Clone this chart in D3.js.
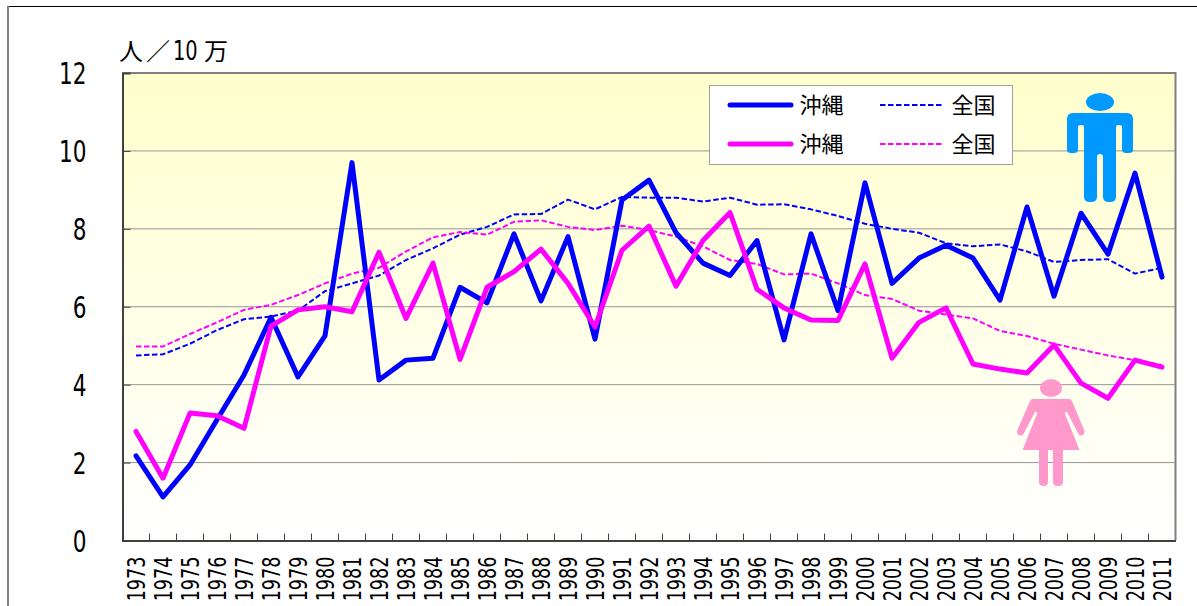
<!DOCTYPE html>
<html>
<head>
<meta charset="utf-8" />
<title>沖縄 全国</title>
<script src="https://cdnjs.cloudflare.com/ajax/libs/d3/7.8.5/d3.min.js"></script>
<style>
  html, body { margin: 0; padding: 0; background: #fff; overflow: hidden; }
  text { font-family: "DejaVu Sans Condensed", "DejaVu Sans", sans-serif; fill: #000; }
  .jp { font-family: "Noto Sans CJK JP", sans-serif; }
</style>
</head>
<body>
<svg id="chart" width="1197" height="606"></svg>
<script>
let years = d3.range(1973, 2012).map(String)
let yTicks = [0, 2, 4, 6, 8, 10, 12]
let okinawaMale = [2.17, 1.12, 1.94, 3.1, 4.25, 5.73, 4.2, 5.25, 9.7, 4.12, 4.63, 4.68, 6.5, 6.1, 7.87, 6.15, 7.8, 5.17, 8.74, 9.25, 7.9, 7.12, 6.8, 7.7, 5.15, 7.87, 5.9, 9.18, 6.6, 7.25, 7.58, 7.25, 6.17, 8.56, 6.27, 8.4, 7.35, 9.43, 6.76]
let okinawaFemale = [2.8, 1.6, 3.27, 3.2, 2.88, 5.5, 5.92, 6.0, 5.87, 7.4, 5.7, 7.12, 4.65, 6.5, 6.9, 7.48, 6.6, 5.48, 7.45, 8.07, 6.53, 7.7, 8.42, 6.45, 5.97, 5.66, 5.65, 7.1, 4.68, 5.6, 5.97, 4.53, 4.4, 4.3, 5.02, 4.04, 3.65, 4.63, 4.45]
let nationalMale = [4.75, 4.78, 5.05, 5.4, 5.68, 5.75, 5.9, 6.4, 6.6, 6.8, 7.2, 7.5, 7.85, 8.05, 8.37, 8.38, 8.75, 8.5, 8.82, 8.8, 8.8, 8.7, 8.8, 8.62, 8.63, 8.5, 8.33, 8.13, 8.0, 7.9, 7.63, 7.55, 7.6, 7.42, 7.15, 7.2, 7.22, 6.85, 7.0]
let nationalFemale = [4.98, 4.98, 5.3, 5.6, 5.92, 6.05, 6.3, 6.6, 6.85, 7.0, 7.42, 7.78, 7.92, 7.85, 8.18, 8.22, 8.05, 7.97, 8.08, 7.97, 7.8, 7.55, 7.2, 7.1, 6.83, 6.85, 6.6, 6.3, 6.2, 5.9, 5.8, 5.7, 5.38, 5.25, 5.05, 4.9, 4.75, 4.63, 4.5]

let blue = '#0000ff', magenta = '#ff00ff'
let plotLeft = 122.5, plotRight = 1175.5, plotTop = 73, plotBottom = 540.5

let svg = d3.select('#chart')
let xScale = d3.scaleBand().domain(years).range([plotLeft, plotRight])
let yScale = d3.scaleLinear().domain([0, 12]).range([plotBottom, plotTop])

// outer frame, runs off the bottom of the picture
svg.append('line').attr('x1', 8).attr('x2', 1197).attr('y1', 6.5).attr('y2', 6.5).attr('stroke', '#000').attr('stroke-width', 1)
svg.append('line').attr('x1', 8).attr('x2', 8).attr('y1', 6).attr('y2', 606).attr('stroke', '#808080').attr('stroke-width', 2)

let grad = svg.append('defs').append('linearGradient').attr('id', 'bg').attr('x1', 0).attr('x2', 0).attr('y1', 0).attr('y2', 1)
grad.append('stop').attr('offset', '0%').attr('stop-color', '#ffffcc')
grad.append('stop').attr('offset', '100%').attr('stop-color', '#ffffff')
svg.append('rect').attr('x', plotLeft).attr('y', plotTop).attr('width', plotRight - plotLeft).attr('height', plotBottom - plotTop).attr('fill', 'url(#bg)')

// grid
svg.selectAll('.grid').data(yTicks.filter(d => d > 0 && d < 12)).enter().append('line')
  .attr('class', 'grid')
  .attr('x1', plotLeft).attr('x2', plotRight)
  .attr('y1', d => yScale(d)).attr('y2', d => yScale(d))
  .attr('stroke', '#969696').attr('stroke-width', 1)

// plot border top and right
svg.append('path').attr('d', `M${plotLeft},${plotTop}H${plotRight}V${plotBottom}`).attr('fill', 'none').attr('stroke', '#808080').attr('stroke-width', 2)

// axes
let yAxis = d3.axisLeft(yScale).tickValues(yTicks).tickSize(-8).tickPadding(0).tickFormat(d3.format('d'))
let gy = svg.append('g').attr('transform', `translate(${plotLeft},0)`).call(yAxis)
gy.select('.domain').attr('stroke', '#404040').attr('stroke-width', 2)
gy.selectAll('.tick line').attr('stroke', '#404040')
// digits in the reference are tall and squeezed
gy.selectAll('.tick text').attr('x', 0).attr('text-anchor', 'end').attr('dy', '0.36em')
  .attr('transform', 'translate(-36,0) scale(0.8,1)')
  .style('font-size', '30px').attr('fill', '#000')

let xAxis = d3.axisBottom(xScale).tickSize(0)
let gx = svg.append('g').attr('transform', `translate(0,${plotBottom})`).call(xAxis)
gx.select('.domain').attr('stroke', '#404040').attr('stroke-width', 2)
gx.selectAll('.tick text')
  .attr('transform', 'translate(0,16) rotate(-90) scale(0.8,1)')
  .attr('x', 0).attr('y', 0).attr('dy', '0.36em').attr('text-anchor', 'end')
  .style('font-size', '24.5px').attr('fill', '#000')
// ticks sit on the category edges
svg.selectAll('.xtick').data(years.slice(1)).enter().append('line')
  .attr('class', 'xtick')
  .attr('x1', d => xScale(d)).attr('x2', d => xScale(d))
  .attr('y1', plotBottom).attr('y2', plotBottom - 7)
  .attr('stroke', '#404040')

// lines
let line = d3.line().x((d, i) => xScale(years[i]) + xScale.bandwidth() / 2).y(d => yScale(d))
function addLine(values, color, width, dash) {
  svg.append('path').attr('d', line(values)).attr('fill', 'none')
    .attr('stroke', color).attr('stroke-width', width)
    .attr('stroke-linejoin', 'round').attr('stroke-linecap', dash ? 'butt' : 'round')
    .attr('stroke-dasharray', dash || null)
}
addLine(nationalMale, blue, 2, '5.5,2.5')
addLine(nationalFemale, magenta, 2, '5.5,2.5')
addLine(okinawaMale, blue, 5)
addLine(okinawaFemale, magenta, 5)

// legend
let legend = svg.append('g')
legend.append('rect').attr('x', 709.5).attr('y', 85.5).attr('width', 303).attr('height', 79)
  .attr('fill', '#fff').attr('stroke', '#a0a0a0')
let legendRows = [
  { y: 105, color: blue },
  { y: 144, color: magenta }
]
legendRows.forEach(r => {
  legend.append('line').attr('x1', 730).attr('x2', 791).attr('y1', r.y).attr('y2', r.y)
    .attr('stroke', r.color).attr('stroke-width', 5).attr('stroke-linecap', 'round')
  legend.append('text').attr('class', 'jp').attr('x', 799.5).attr('y', r.y + 8).style('font-size', '22px').text('沖縄')
  legend.append('line').attr('x1', 880).attr('x2', 944).attr('y1', r.y).attr('y2', r.y)
    .attr('stroke', r.color).attr('stroke-width', 2).attr('stroke-dasharray', '5.5,2.5')
  legend.append('text').attr('class', 'jp').attr('x', 951.5).attr('y', r.y + 8).style('font-size', '22px').text('全国')
})

// unit label
svg.append('text').attr('class', 'jp').attr('x', 119).attr('y', 60).style('font-size', '24px').text('人')
svg.append('text').attr('class', 'jp').attr('x', 146).attr('y', 60).style('font-size', '24px').text('／')
svg.append('text').attr('x', 173).attr('y', 60).attr('transform', 'translate(173,60) scale(0.8,1) translate(-173,-60)').style('font-size', '27px').text('10')
svg.append('text').attr('class', 'jp').attr('x', 204).attr('y', 60).style('font-size', '24px').text('万')

// figures
let man = svg.append('g').attr('fill', '#0099ff')
man.append('ellipse').attr('cx', 1100).attr('cy', 102).attr('rx', 14).attr('ry', 9)
man.append('path').attr('d', 'M1073,113H1127Q1133,113 1133,119V150Q1133,153 1129,153H1126Q1122,153 1122,150V127Q1122,125 1119,125H1118Q1116,125 1116,127V197Q1116,202 1110,202H1109Q1103,202 1103,197V157Q1103,154 1100,154Q1097,154 1097,157V197Q1097,202 1091,202H1090Q1084,202 1084,197V127Q1084,125 1082,125H1081Q1078,125 1078,127V150Q1078,153 1074,153H1071Q1067,153 1067,150V119Q1067,113 1073,113Z')

let woman = svg.append('g').attr('fill', '#ff99cc')
woman.append('ellipse').attr('cx', 1051).attr('cy', 388).attr('rx', 11).attr('ry', 9)
woman.append('path').attr('d', 'M1033,399H1069Q1071,399 1072,401L1084.5,431Q1085,435 1081,435.5Q1079,436 1078,433L1067,412Q1065,411 1065,414L1079.5,450H1063V482Q1063,486 1058,486Q1053,486 1053,482V450H1048V482Q1048,486 1043.5,486Q1039,486 1039,482V450H1022.5L1037,414Q1037,411 1035,412L1024,433Q1023,436 1020,435.5Q1016.5,435 1017,431L1030,401Q1031,399 1033,399Z')
</script>
</body>
</html>
